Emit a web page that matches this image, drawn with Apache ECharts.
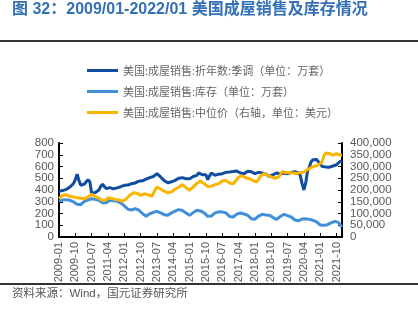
<!DOCTYPE html>
<html><head><meta charset="utf-8">
<script src="https://cdn.jsdelivr.net/npm/echarts@6/dist/echarts.min.js"></script>
<style>html,body{margin:0;padding:0;background:#fff}#c{width:418px;height:322px}</style>
</head><body><div id="c"></div>
<script>
// months 2009-01 .. 2022-01
const categories = [];
for (let y = 2009; y <= 2022; y++) for (let m = 1; m <= 12; m++) { if (y === 2022 && m > 1) break; categories.push(y + '-' + String(m).padStart(2, '0')); }

const salesSAAR = [
 390,388,395,400,405,415,425,440,455,490,535,480,
 440,435,450,470,488,470,372,375,378,383,400,430,
 450,430,412,405,420,412,410,425,418,430,428,440,
 440,445,442,450,454,448,460,465,475,482,478,490,
 492,496,505,500,515,525,539,530,511,495,480,470,
 462,465,470,480,482,490,500,511,505,500,496,505,
 496,505,515,520,525,545,539,530,525,530,488,520,
 545,530,525,530,535,540,539,545,550,548,553,555,
 557,559,562,555,545,540,539,550,560,567,555,545,
 539,545,550,545,545,540,535,520,516,518,530,545,
 545,540,535,539,545,540,539,545,550,553,555,553,
 545,525,454,400,460,560,596,640,658,667,660,640,
 625,601,598,596,596,594,600,604,610,615,624,645,
 638];

const inventory = [
 306,310,314,316,318,318,312,305,298,288,278,270,
 275,290,304,310,315,322,326,325,320,318,312,300,
 292,289,292,300,312,310,308,306,306,300,290,275,
 265,250,236,227,230,236,241,237,228,215,200,185,
 176,185,198,204,210,215,218,216,206,198,190,184,
 186,195,205,213,220,228,233,232,225,218,205,192,
 184,195,208,220,227,226,222,215,205,190,176,170,
 178,192,205,212,214,213,213,212,205,190,175,165,
 170,182,195,204,204,200,196,193,185,170,155,148,
 152,165,178,190,193,192,188,184,186,180,165,155,
 150,160,175,188,193,190,182,176,170,158,145,136,
 138,145,153,156,155,152,150,148,142,135,128,118,
 102,99,99,101,105,112,120,128,133,134,124,110,
 85];

const medianPrice = [
 163000,170000,178000,182000,180000,176000,173000,172000,170000,168000,167000,166000,
 165000,164000,163000,165000,170000,176000,182000,178000,172000,168000,165000,160000,
 156000,152000,158000,167000,165000,164000,163000,160000,163000,158000,155000,152000,
 155000,162000,170000,178000,185000,188000,191000,186000,180000,177000,180000,184000,
 184000,180000,176000,173000,185000,200000,213000,210000,204000,199000,195000,190000,
 188000,187000,192000,198000,203000,206000,212000,218000,223000,218000,210000,203000,
 199000,205000,213000,220000,228000,234000,238000,232000,227000,222000,215000,213000,
 216000,220000,223000,225000,227000,232000,238000,244000,240000,235000,230000,228000,
 227000,235000,245000,255000,262000,260000,255000,252000,250000,248000,245000,240000,
 236000,234000,245000,258000,266000,270000,265000,262000,258000,256000,252000,250000,
 248000,255000,265000,279000,276000,274000,272000,273000,275000,272000,270000,270000,
 272000,274000,276000,277000,282000,287000,292000,296000,298000,302000,305000,306000,
 308000,320000,345000,357000,360000,355000,350000,348000,352000,355000,350000,348000,
 348000];

const leftTicks = [0,100,200,300,400,500,600,700,800];
const rightTicks = [0,50000,100000,150000,200000,250000,300000,350000,400000];

const seriesNames = ['美国:成屋销售:折年数:季调（单位：万套）','美国:成屋销售:库存（单位：万套）','美国:成屋销售:中位价（右轴，单位：美元）'];
const colors = ['#0E4DA1','#3F8FD9','#FBB400'];
const titleText = '图 32：2009/01-2022/01 美国成屋销售及库存情况';
const sourceText = '资料来源：Wind，国元证券研究所';

const chart = echarts.init(document.getElementById('c'), null, {renderer:'canvas'});
const labStyle = {color:'#595959', fontSize:11.5, fontFamily:'Liberation Sans, Arial, sans-serif', showMinLabel:true, showMaxLabel:true, hideOverlap:false};
const fmtL = (parity) => (v) => (leftTicks.indexOf(v) % 2 === parity) ? String(v) : '';
const fmtR = (parity) => (v) => (rightTicks.indexOf(v) % 2 === parity) ? v.toLocaleString('en-US') : '';
function yAx(ticks, pos, main, parity, fmt, margin){
  return {type:'value', position:pos, min:ticks[0], max:ticks[ticks.length-1], interval:ticks[1]-ticks[0],
    splitLine:{show:false},
    axisLine:{show:main, lineStyle:{color:'#000', width:2}},
    axisTick:{show:main, inside:true, length:4, lineStyle:{color:'#000'}},
    axisLabel:{...labStyle, margin:margin, formatter:fmt(parity)}};
}
chart.setOption({
  animation:false,
  color: colors,
  graphic:[
    {type:'text', left:12, top:2, style:{text:titleText, fill:'#3370B7', font:'bold 16px "Liberation Sans", "Noto Sans CJK SC", sans-serif'}},
    {type:'rect', shape:{x:0,y:40,width:418,height:2}, style:{fill:'#333'}},
    {type:'rect', shape:{x:0,y:283,width:418,height:2}, style:{fill:'#333'}},
    {type:'text', left:12, top:288, style:{text:sourceText, fill:'#555', font:'11.5px "Liberation Sans", "Noto Sans CJK SC", sans-serif'}}
  ],
  legend:{orient:'vertical', left:87, top:65, padding:0, itemWidth:31, itemHeight:3, itemGap:10, icon:'rect',
    textStyle:{color:'#666', fontSize:11, fontFamily:'"Noto Sans CJK SC", sans-serif'},
    data: seriesNames},
  grid:{left:59, right:76, top:143, bottom:85, containLabel:false},
  xAxis:{type:'category', data:categories, boundaryGap:false,
    axisLine:{lineStyle:{color:'#000', width:2}},
    axisTick:{inside:true, interval:8, length:4, lineStyle:{color:'#000'}},
    axisLabel:{interval:8, rotate:90, color:'#595959', fontFamily:'Liberation Sans, Arial, sans-serif', fontSize:11, margin:5}},
  yAxis:[
    yAx(leftTicks, 'left', true, 0, fmtL, 5),
    yAx(rightTicks, 'right', true, 0, fmtR, 8),
    yAx(leftTicks, 'left', false, 1, fmtL, 5),
    yAx(rightTicks, 'right', false, 1, fmtR, 8)
  ],
  series:[
    {name:seriesNames[0], type:'line', data:salesSAAR, showSymbol:false, lineStyle:{width:3}},
    {name:seriesNames[1], type:'line', data:inventory, showSymbol:false, lineStyle:{width:3}},
    {name:seriesNames[2], type:'line', yAxisIndex:1, data:medianPrice, showSymbol:false, lineStyle:{width:3}}
  ]
});
</script></body></html>
